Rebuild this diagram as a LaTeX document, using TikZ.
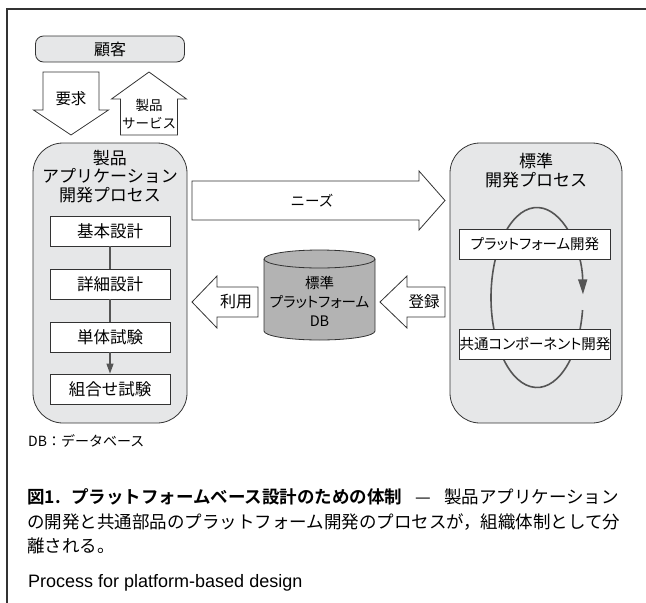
\documentclass[tikz,border=0pt]{standalone}
\usepackage{fontspec}
\setmainfont{Liberation Sans}
\newfontfamily\jp[RawFeature=+palt]{Noto Sans CJK JP}
\newfontfamily\jpf[BoldFont={Noto Sans CJK JP Bold}]{Noto Sans CJK JP}
\usetikzlibrary{arrows.meta}
\definecolor{boxfill}{HTML}{E6E7E8}
\definecolor{dbfill}{HTML}{B3B3B3}
\definecolor{edge}{HTML}{333333}
\definecolor{connc}{HTML}{555555}
\tikzset{
 outl/.style={draw=edge, line width=0.8pt},
 bigbox/.style={outl, fill=boxfill, rounded corners=30pt, minimum width=154pt, minimum height=280pt, inner sep=0pt},
 stepbox/.style={outl, fill=white, minimum width=120pt, minimum height=30pt, inner sep=0pt, font=\jpf\fontsize{16.5}{18}\selectfont},
 rstep/.style={outl, fill=white, minimum width=151pt, minimum height=30pt, inner sep=0pt, font=\jp\fontsize{14.5}{16}\selectfont},
 blk/.style={outl, fill=white, line join=miter},
 conn/.style={draw=connc, line width=1.2pt},
 loopline/.style={draw=connc, line width=1.6pt},
 lbl/.style={inner sep=0pt, align=center},
 ttl/.style={lbl, font=\jpf\fontsize{17}{18.5}\selectfont},
 captxt/.style={inner sep=0pt, anchor=west, font=\jpf\fontsize{17.5}{20}\selectfont},
}
\begin{document}
\begin{tikzpicture}[x=1pt,y=-1pt]
\useasboundingbox (0,0) rectangle (646,603);
% frame
\draw[draw=edge, line width=1.2pt] (646,9) -- (7,9) -- (7,603);

% customer
\node[outl, fill=boxfill, rounded corners=8pt, minimum width=149pt, minimum height=26pt, inner sep=0pt,
      font=\jpf\fontsize{16}{17}\selectfont] (kokyaku) at (110,49) {顧客};

% request arrow (down)
\draw[blk] (43,72) -- (99,72) -- (99,110) -- (108.5,110) -- (71,135) -- (33.5,110) -- (43,110) -- cycle;
\node[lbl, font=\jpf\fontsize{15.5}{17}\selectfont] (youkyu) at (71,99) {要求};
% product/service arrow (up)
\draw[blk] (149,72) -- (186.5,99) -- (177.5,99) -- (177.5,135) -- (120.5,135) -- (120.5,99) -- (111.5,99) -- cycle;
\node[lbl, font=\jpf\fontsize{13.5}{18}\selectfont] (seihin) at (149,114.5) {製品\\サービス};

% big process boxes
\node[bigbox] (appbox) at (110,283) {};
\node[bigbox, minimum width=172pt] (stdbox) at (536,283) {};
\node[ttl] (appttl) at (110,176.5) {製品\\アプリケーション\\開発プロセス};
\node[ttl, font=\jpf\fontsize{17}{19}\selectfont] (stdttl) at (536,170.5) {標準\\開発プロセス};

% left steps
\node[stepbox] (s1) at (110,231) {基本設計};
\node[stepbox] (s2) at (110,284) {詳細設計};
\node[stepbox] (s3) at (110,337) {単体試験};
\node[stepbox] (s4) at (110,389) {組合せ試験};
\draw[conn] (s1) -- (s2);
\draw[conn] (s2) -- (s3);
\draw[conn, -{Triangle[length=10pt,width=7pt]}] (s3) -- (s4);

% right loop
\coordinate (loopc) at (537,297.5);
\draw[loopline, -{Triangle[length=15pt,width=9pt]}] (loopc) ++(8:46 and 90)
   arc[start angle=8, end angle=358, x radius=46, y radius=90];
\node[rstep] (r1) at (535,244) {プラットフォーム開発};
\node[rstep] (r2) at (535,344) {共通コンポーネント開発};

% needs arrow
\draw[blk] (192,181) -- (419,181) -- (419,171) -- (445,200.5) -- (419,230) -- (419,220) -- (192,220) -- cycle;
\node[lbl, font=\jpf\fontsize{14.5}{17}\selectfont] (needs) at (312,200.5) {ニーズ};

% database cylinder
\draw[outl, fill=dbfill] (264,259) -- (264,331)
   arc[start angle=180, end angle=0, x radius=55.5, y radius=9] -- (375,259)
   arc[start angle=0, end angle=-180, x radius=55.5, y radius=9] -- cycle;
\draw[outl] (264,259) arc[start angle=180, end angle=0, x radius=55.5, y radius=9];
\node[lbl, font=\jp\fontsize{14.5}{19}\selectfont] (db) at (319.5,301) {標準\\プラットフォーム\\DB};

% use arrow
\draw[blk] (192,302) -- (217,276) -- (217,287) -- (258,287) -- (258,317) -- (217,317) -- (217,328) -- cycle;
\node[lbl, font=\jpf\fontsize{16}{18}\selectfont] (riyou) at (236,302) {利用};
% register arrow
\draw[blk] (380,302) -- (407,276) -- (407,287) -- (445,287) -- (445,317) -- (407,317) -- (407,328) -- cycle;
\node[lbl, font=\jpf\fontsize{15.5}{18}\selectfont] (touroku) at (424,302) {登録};

% notes and caption
\node[captxt, font=\jpf\fontsize{14}{16}\selectfont] (note) at (28,441) {DB：データベース};
\node[captxt] (cap1) at (27,497) {{\bfseries 図1.\hspace{0.6em}プラットフォームベース設計のための体制}\hspace{0.75em}—\hspace{0.75em}製品アプリケーション};
\node[captxt] (cap2) at (27,522) {の開発と共通部品のプラットフォーム開発のプロセスが，組織体制として分};
\node[captxt] (cap3) at (27,546) {離される。};
\node[captxt, font=\fontsize{18}{20}\selectfont] (eng) at (28,583) {Process for platform-based design};
\end{tikzpicture}
\end{document}
